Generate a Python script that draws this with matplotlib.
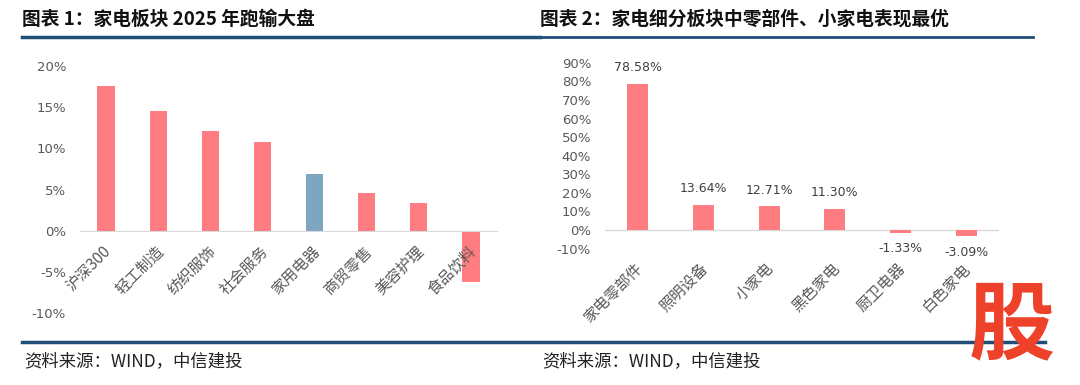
import matplotlib.pyplot as plt
import matplotlib.transforms as mtransforms
from matplotlib.lines import Line2D

plt.rcParams['font.family'] = ['Noto Sans CJK SC', 'DejaVu Sans']

# left chart: sector returns 2025
cats1 = ['沪深300', '轻工制造', '纺织服饰', '社会服务', '家用电器', '商贸零售', '美容护理', '食品饮料']
vals1 = [17.6, 14.5, 12.1, 10.8, 6.9, 4.6, 3.4, -6.2]
hilite1 = '家用电器'

# right chart: appliance sub-sectors
cats2 = ['家电零部件', '照明设备', '小家电', '黑色家电', '厨卫电器', '白色家电']
vals2 = [78.58, 13.64, 12.71, 11.30, -1.33, -3.09]

title1 = '图表 1：家电板块 2025 年跑输大盘'
title2 = '图表 2：家电细分板块中零部件、小家电表现最优'
source = '资料来源：WIND，中信建投'

PINK = '#FF7C80'
BLUE = '#7FA6C0'
GRAY = '#595959'
NAVY = '#1F4E79'

fig = plt.figure(figsize=(10.8, 3.85), dpi=100)
W, H = 1080, 385


def fx(px):
    return px / W


def fy(py):
    return 1 - py / H


def shift_labels(ax, dx_px):
    off = mtransforms.ScaledTranslation(dx_px / 100, 0, fig.dpi_scale_trans)
    for lab in ax.get_xticklabels():
        lab.set_transform(lab.get_transform() + off)


# ---- left chart
ax1 = fig.add_axes([fx(80), fy(313), fx(417), 247 / H])
xs1 = range(len(cats1))
cols = [BLUE if c == hilite1 else PINK for c in cats1]
ax1.bar(xs1, vals1, width=0.33, color=cols, zorder=1)
ax1.set_axisbelow(False)
ax1.set_ylim(-10, 20)
ax1.set_xlim(-0.5, len(cats1) - 0.5)
ax1.set_yticks([-10, -5, 0, 5, 10, 15, 20])
ax1.set_yticklabels(['%d%%' % v for v in [-10, -5, 0, 5, 10, 15, 20]],
                    color=GRAY, fontsize=9.5, family='DejaVu Sans')
ax1.spines['bottom'].set_position(('data', 0))
ax1.spines['bottom'].set_color('#D9D9D9')
for s in ['top', 'right', 'left']:
    ax1.spines[s].set_visible(False)
ax1.set_xticks(list(xs1))
ax1.set_xticklabels(cats1, rotation=45, ha='right', color=GRAY, fontsize=11)
ax1.tick_params(axis='both', length=0)
ax1.tick_params(axis='x', pad=9)
ax1.tick_params(axis='y', pad=10)
shift_labels(ax1, 9)

# ---- right chart
ax2 = fig.add_axes([fx(605), fy(248.7), fx(394), 186 / H])
xs2 = range(len(cats2))
ax2.bar(xs2, vals2, width=0.32, color=PINK, zorder=2)
ax2.axhline(0, color='#D9D9D9', lw=1, zorder=1)
ax2.set_ylim(-10, 90)
ax2.set_xlim(-0.5, len(cats2) - 0.5)
ticks2 = list(range(-10, 91, 10))
ax2.set_yticks(ticks2)
ax2.set_yticklabels(['%d%%' % v for v in ticks2], color=GRAY, fontsize=9.5,
                    family='DejaVu Sans')
for s in ['top', 'right', 'left', 'bottom']:
    ax2.spines[s].set_visible(False)
ax2.set_xticks(list(xs2))
ax2.set_xticklabels(cats2, rotation=45, ha='right', color=GRAY, fontsize=11)
ax2.tick_params(axis='both', length=0)
ax2.tick_params(axis='x', pad=8)
ax2.tick_params(axis='y', pad=10)
shift_labels(ax2, 8)
for x, v in zip(xs2, vals2):
    ax2.annotate('%.2f%%' % v, (x, v), xytext=(0, 7 if v >= 0 else -7),
                 textcoords='offset points', ha='center',
                 va='bottom' if v >= 0 else 'top', fontsize=9,
                 color='#404040', family='DejaVu Sans')

# ---- titles, rules, sources
fig.text(fx(22), fy(19), title1, fontsize=13.5, fontweight='bold',
         va='center', ha='left', color='#111111')
fig.text(fx(540), fy(19), title2, fontsize=13.5, fontweight='bold',
         va='center', ha='left', color='#111111')
fig.add_artist(Line2D([fx(22), fx(540)], [fy(37), fy(37)], color=NAVY, lw=2.5))
fig.add_artist(Line2D([fx(540), fx(1033)], [fy(37), fy(37)], color=NAVY, lw=2))
fig.add_artist(Line2D([fx(22), fx(1045)], [fy(342), fy(342)], color=NAVY, lw=2.5))
fig.text(fx(24), fy(361), source, fontsize=12.5, va='center', ha='left',
         color='#222222', style='italic')
fig.text(fx(542), fy(361), source, fontsize=12.5, va='center', ha='left',
         color='#222222', style='italic')

# watermark
fig.text(fx(1012), fy(327), '股', fontsize=62, fontweight='black',
         color='#EE4129', ha='center', va='center')

fig.savefig('out.png', dpi=100)
